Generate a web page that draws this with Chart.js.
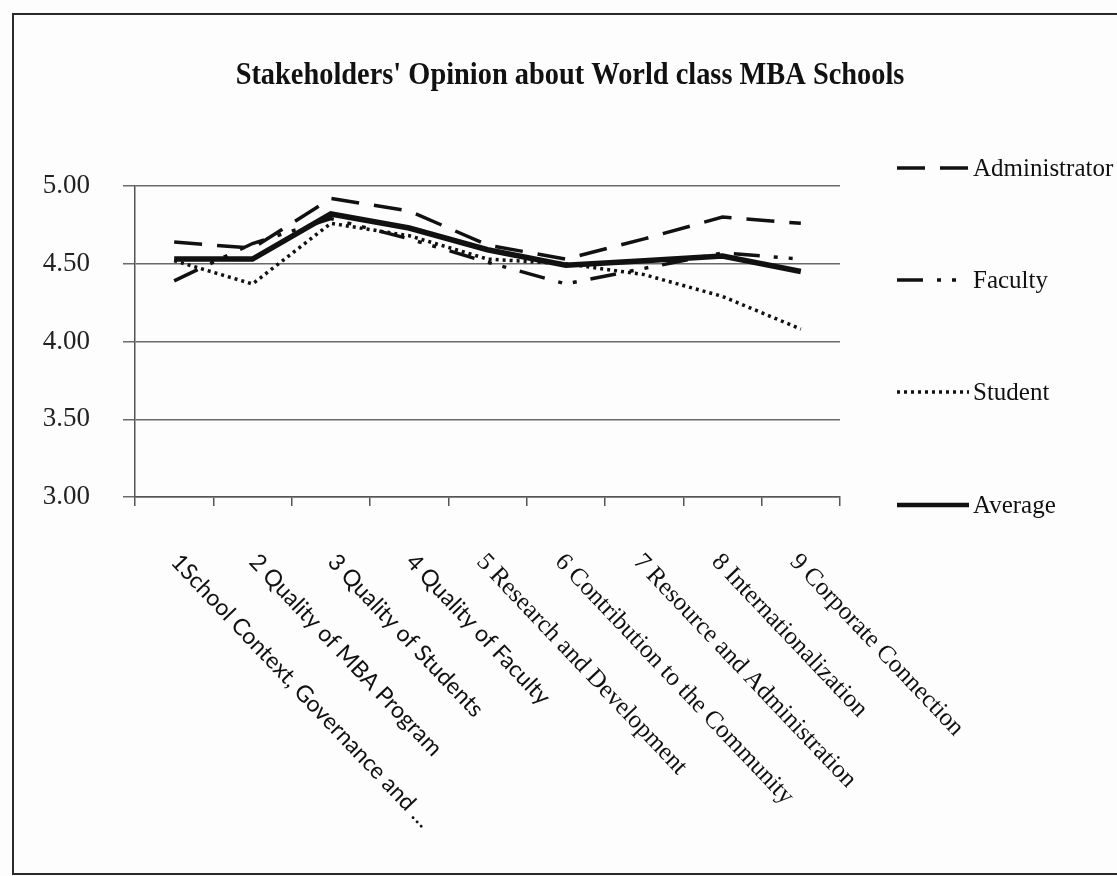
<!DOCTYPE html>
<html>
<head>
<meta charset="utf-8">
<script src="https://cdn.jsdelivr.net/npm/chart.js@4.4.1/dist/chart.umd.min.js"></script>
<style>
html, body { margin: 0; padding: 0; background: #fff; }
#wrap { position: relative; width: 1117px; height: 876px; overflow: hidden; background: #fdfdfd; }
#frame { position: absolute; left: 12px; top: 13px; width: 1200px; height: 858px; border: 2px solid #2a2a2a; }
canvas { position: absolute; left: 0; top: 0; }
</style>
</head>
<body>
<div id="wrap">
  <div id="frame"></div>
  <canvas id="chart" width="1117" height="876"></canvas>
</div>
<script>
// data
const categories = [
    '1School Context, Governance and \u2026',
    '2 Quality of MBA Program',
    '3 Quality of Students',
    '4 Quality of Faculty',
    '5 Research and Development',
    '6 Contribution to the Community',
    '7 Resource and Administration',
    '8 Internationalization',
    '9 Corporate Connection'
];
const administrator = [4.64, 4.60, 4.92, 4.84, 4.62, 4.53, 4.66, 4.80, 4.76];
const faculty       = [4.39, 4.63, 4.79, 4.66, 4.51, 4.37, 4.47, 4.57, 4.53];
const student       = [4.52, 4.37, 4.76, 4.68, 4.53, 4.50, 4.43, 4.29, 4.08];
const average       = [4.53, 4.53, 4.82, 4.73, 4.59, 4.49, 4.52, 4.55, 4.45];
const yTicks = [3.0, 3.5, 4.0, 4.5, 5.0];
const chartTitle = "Stakeholders' Opinion about World class MBA Schools";

// legend layout (right side), rows evenly spaced
const legendRows = [168, 280, 392, 505];

const ink = '#111';

// title, drawn condensed like the original
const condensedTitle = {
    id: 'condensedTitle',
    afterDraw(chart) {
        const ctx = chart.ctx;
        ctx.save();
        ctx.translate(570, 76);
        ctx.scale(0.887, 1);
        ctx.fillStyle = ink;
        ctx.font = 'bold 32px "Liberation Serif"';
        ctx.textAlign = 'center';
        ctx.textBaseline = 'middle';
        ctx.fillText(chartTitle, 0, 0);
        ctx.restore();
    }
};

// slanted category labels, drawn from the x scale
const slantLabels = {
    id: 'slantLabels',
    afterDraw(chart) {
        const ctx = chart.ctx;
        const x = chart.scales.x;
        ctx.save();
        ctx.fillStyle = ink;
        ctx.textAlign = 'left';
        ctx.textBaseline = 'middle';
        categories.forEach((lab, i) => {
            const px = x.getPixelForValue(i);
            const sans = i < 4;
            ctx.save();
            ctx.translate(px + (sans ? 1 : -7), x.top + 61);
            ctx.rotate(46.5 * Math.PI / 180);
            ctx.font = sans ? '23px Lato' : '25px "Liberation Serif"';
            ctx.fillText(lab, 0, 0);
            ctx.restore();
        });
        ctx.restore();
    }
};

// legend on the right
const sideLegend = {
    id: 'sideLegend',
    afterDraw(chart) {
        const ctx = chart.ctx;
        chart.data.datasets.forEach((ds, i) => {
            const y = legendRows[i];
            ctx.save();
            ctx.strokeStyle = ds.borderColor;
            ctx.lineWidth = Math.min(ds.borderWidth, 4.5);
            ctx.setLineDash(ds.borderDash || []);
            ctx.beginPath();
            ctx.moveTo(897, y);
            ctx.lineTo(969, y);
            ctx.stroke();
            ctx.setLineDash([]);
            ctx.fillStyle = ink;
            ctx.font = '25px "Liberation Serif"';
            ctx.textBaseline = 'middle';
            ctx.fillText(ds.label, 973, y + 1);
            ctx.restore();
        });
    }
};

const ctx = document.getElementById('chart').getContext('2d');
const chart = new Chart(ctx, {
    type: 'line',
    data: {
        labels: categories,
        datasets: [
            { label: 'Administrator', data: administrator, borderColor: ink, borderWidth: 3.5, borderDash: [28, 15] },
            { label: 'Faculty', data: faculty, borderColor: ink, borderWidth: 3.5, borderDash: [26, 14, 4, 11, 4, 14] },
            { label: 'Student', data: student, borderColor: ink, borderWidth: 3.5, borderDash: [3, 4] },
            { label: 'Average', data: average, borderColor: ink, borderWidth: 5.5 }
        ]
    },
    options: {
        responsive: false,
        animation: false,
        devicePixelRatio: 1,
        elements: {
            point: { radius: 0 },
            line: { tension: 0, fill: false }
        },
        layout: { padding: { left: 0, right: 277, top: 186, bottom: 0 } },
        plugins: {
            legend: { display: false },
            tooltip: { enabled: false },
            title: { display: false }
        },
        scales: {
            x: {
                offset: true,
                afterFit(s) { s.height = 876 - 497; },
                ticks: { display: false },
                grid: { offset: true, drawOnChartArea: false, tickLength: 9, color: '#555', lineWidth: 1.5 },
                border: { display: true, color: '#555', width: 1.5 }
            },
            y: {
                min: 3,
                max: 5,
                afterFit(s) { s.width = 135; },
                afterBuildTicks(s) { s.ticks = yTicks.map(v => ({ value: v })); },
                ticks: {
                    callback: v => Number(v).toFixed(2),
                    color: '#222',
                    font: { family: 'Liberation Serif', size: 27 },
                    padding: 33
                },
                grid: { color: '#6a6a6a', lineWidth: 1.5, tickLength: 12 },
                border: { display: true, color: '#555', width: 1.5 }
            }
        }
    },
    plugins: [condensedTitle, slantLabels, sideLegend]
});
</script>
</body>
</html>
